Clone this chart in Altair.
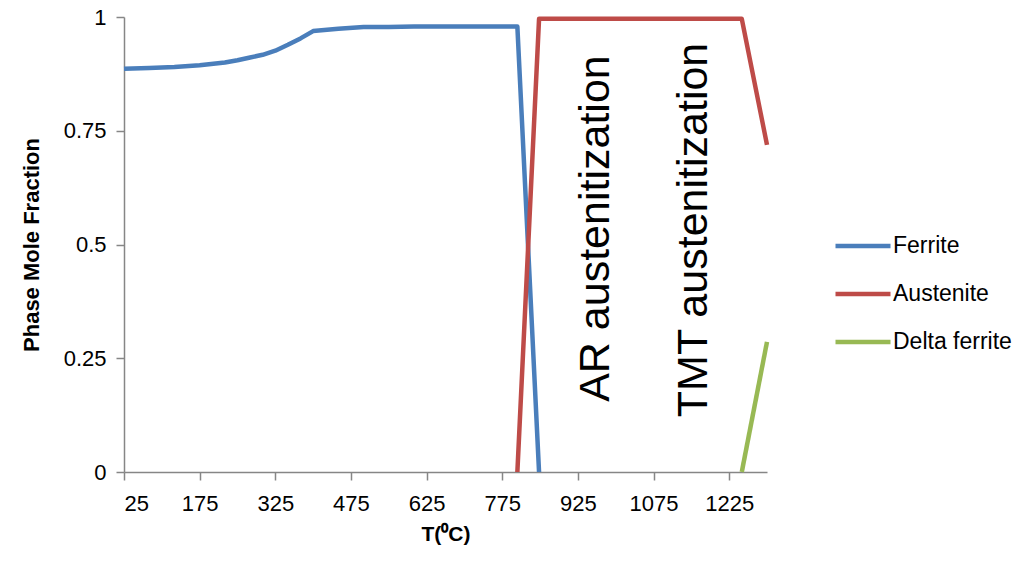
import altair as alt
import pandas as pd

# Phase mole fractions versus temperature (deg C)
ferrite_T = [25, 75, 125, 175, 225, 250, 275, 300, 325, 350, 375, 400, 450, 500,
             550, 600, 650, 700, 750, 805, 848]
ferrite_frac = [0.886, 0.888, 0.890, 0.894, 0.900, 0.905, 0.911, 0.917, 0.926,
                0.939, 0.953, 0.969, 0.974, 0.978, 0.978, 0.979, 0.979, 0.979,
                0.979, 0.979, 0.0]

austenite_T = [805, 848, 900, 1000, 1100, 1200, 1250, 1300]
austenite_frac = [0.0, 0.996, 0.996, 0.996, 0.996, 0.996, 0.996, 0.719]

delta_T = [1250, 1300]
delta_frac = [0.0, 0.286]

phases = ["Ferrite", "Austenite", "Delta ferrite"]
phase_colors = ["#4A7EBB", "#BE4B48", "#98B954"]

x_ticks = [25, 175, 325, 475, 625, 775, 925, 1075, 1225]
y_ticks = [0, 0.25, 0.5, 0.75, 1]

notes = ["AR austenitization", "TMT austenitization"]

rows = []
for name, ts, fs in zip(phases, [ferrite_T, austenite_T, delta_T],
                        [ferrite_frac, austenite_frac, delta_frac]):
    for t, f in zip(ts, fs):
        rows.append({"phase": name, "T": t, "frac": f})
df = pd.DataFrame(rows)

FONT = "Liberation Sans"
AXIS_GRAY = "#868686"

x_enc = alt.X(
    "T:Q",
    scale=alt.Scale(domain=[25, 1300], nice=False, zero=False),
    axis=alt.Axis(
        values=x_ticks, format="d", title="T(⁰C)", grid=False,
        tickSize=8, tickColor=AXIS_GRAY, domainColor=AXIS_GRAY,
        tickWidth=1.5, domainWidth=1.5, labelPadding=13,
        labelFont=FONT, labelFontSize=22, labelColor="black",
        titleFont=FONT, titleFontSize=21, titleFontWeight="bold",
        titleColor="black", titleBaseline="alphabetic", titleY=68,
    ),
)
y_enc = alt.Y(
    "frac:Q",
    scale=alt.Scale(domain=[0, 1], nice=False),
    axis=alt.Axis(
        values=y_ticks, format=".2~f", title="Phase Mole Fraction", grid=False,
        tickSize=8, tickColor=AXIS_GRAY, domainColor=AXIS_GRAY,
        tickWidth=1.5, domainWidth=1.5, labelPadding=10,
        labelFont=FONT, labelFontSize=22, labelColor="black",
        titleFont=FONT, titleFontSize=22, titleFontWeight="bold",
        titleColor="black", titleAngle=-90, titleAlign="center",
        titleBaseline="alphabetic", titleX=-86, titleY=227.5,
    ),
)

lines = alt.Chart(df).mark_line(strokeWidth=4.5, strokeJoin="round").encode(
    x=x_enc,
    y=y_enc,
    color=alt.Color(
        "phase:N",
        scale=alt.Scale(domain=phases, range=phase_colors),
        sort=phases,
        legend=alt.Legend(
            title=None, orient="none", legendX=709, legendY=199,
            symbolType="stroke", symbolSize=3025, symbolStrokeWidth=4.5,
            labelFont=FONT, labelFontSize=23, labelColor="black",
            labelOffset=0, rowPadding=6,
        ),
    ),
    order=alt.Order("T:Q"),
)

ar_note = alt.Chart(pd.DataFrame({"note": [notes[0]]})).mark_text(
    angle=270, align="center", baseline="middle", font=FONT, fontSize=43,
    color="black",
).encode(x=alt.datum(960), y=alt.datum(0.535), text="note:N")

tmt_note = alt.Chart(pd.DataFrame({"note": [notes[1]]})).mark_text(
    angle=270, align="center", baseline="middle", font=FONT, fontSize=43,
    color="black",
).encode(x=alt.datum(1155), y=alt.datum(0.532), text="note:N")

chart = alt.layer(lines, ar_note, tmt_note).properties(
    width=643,
    height=455,
    autosize=alt.AutoSizeParams(type="none"),
    padding={"left": 124, "top": 17, "right": 262, "bottom": 91},
    background="white",
).configure_view(stroke=None)

chart.save("out.html", embed_options={"renderer": "svg", "actions": False})
